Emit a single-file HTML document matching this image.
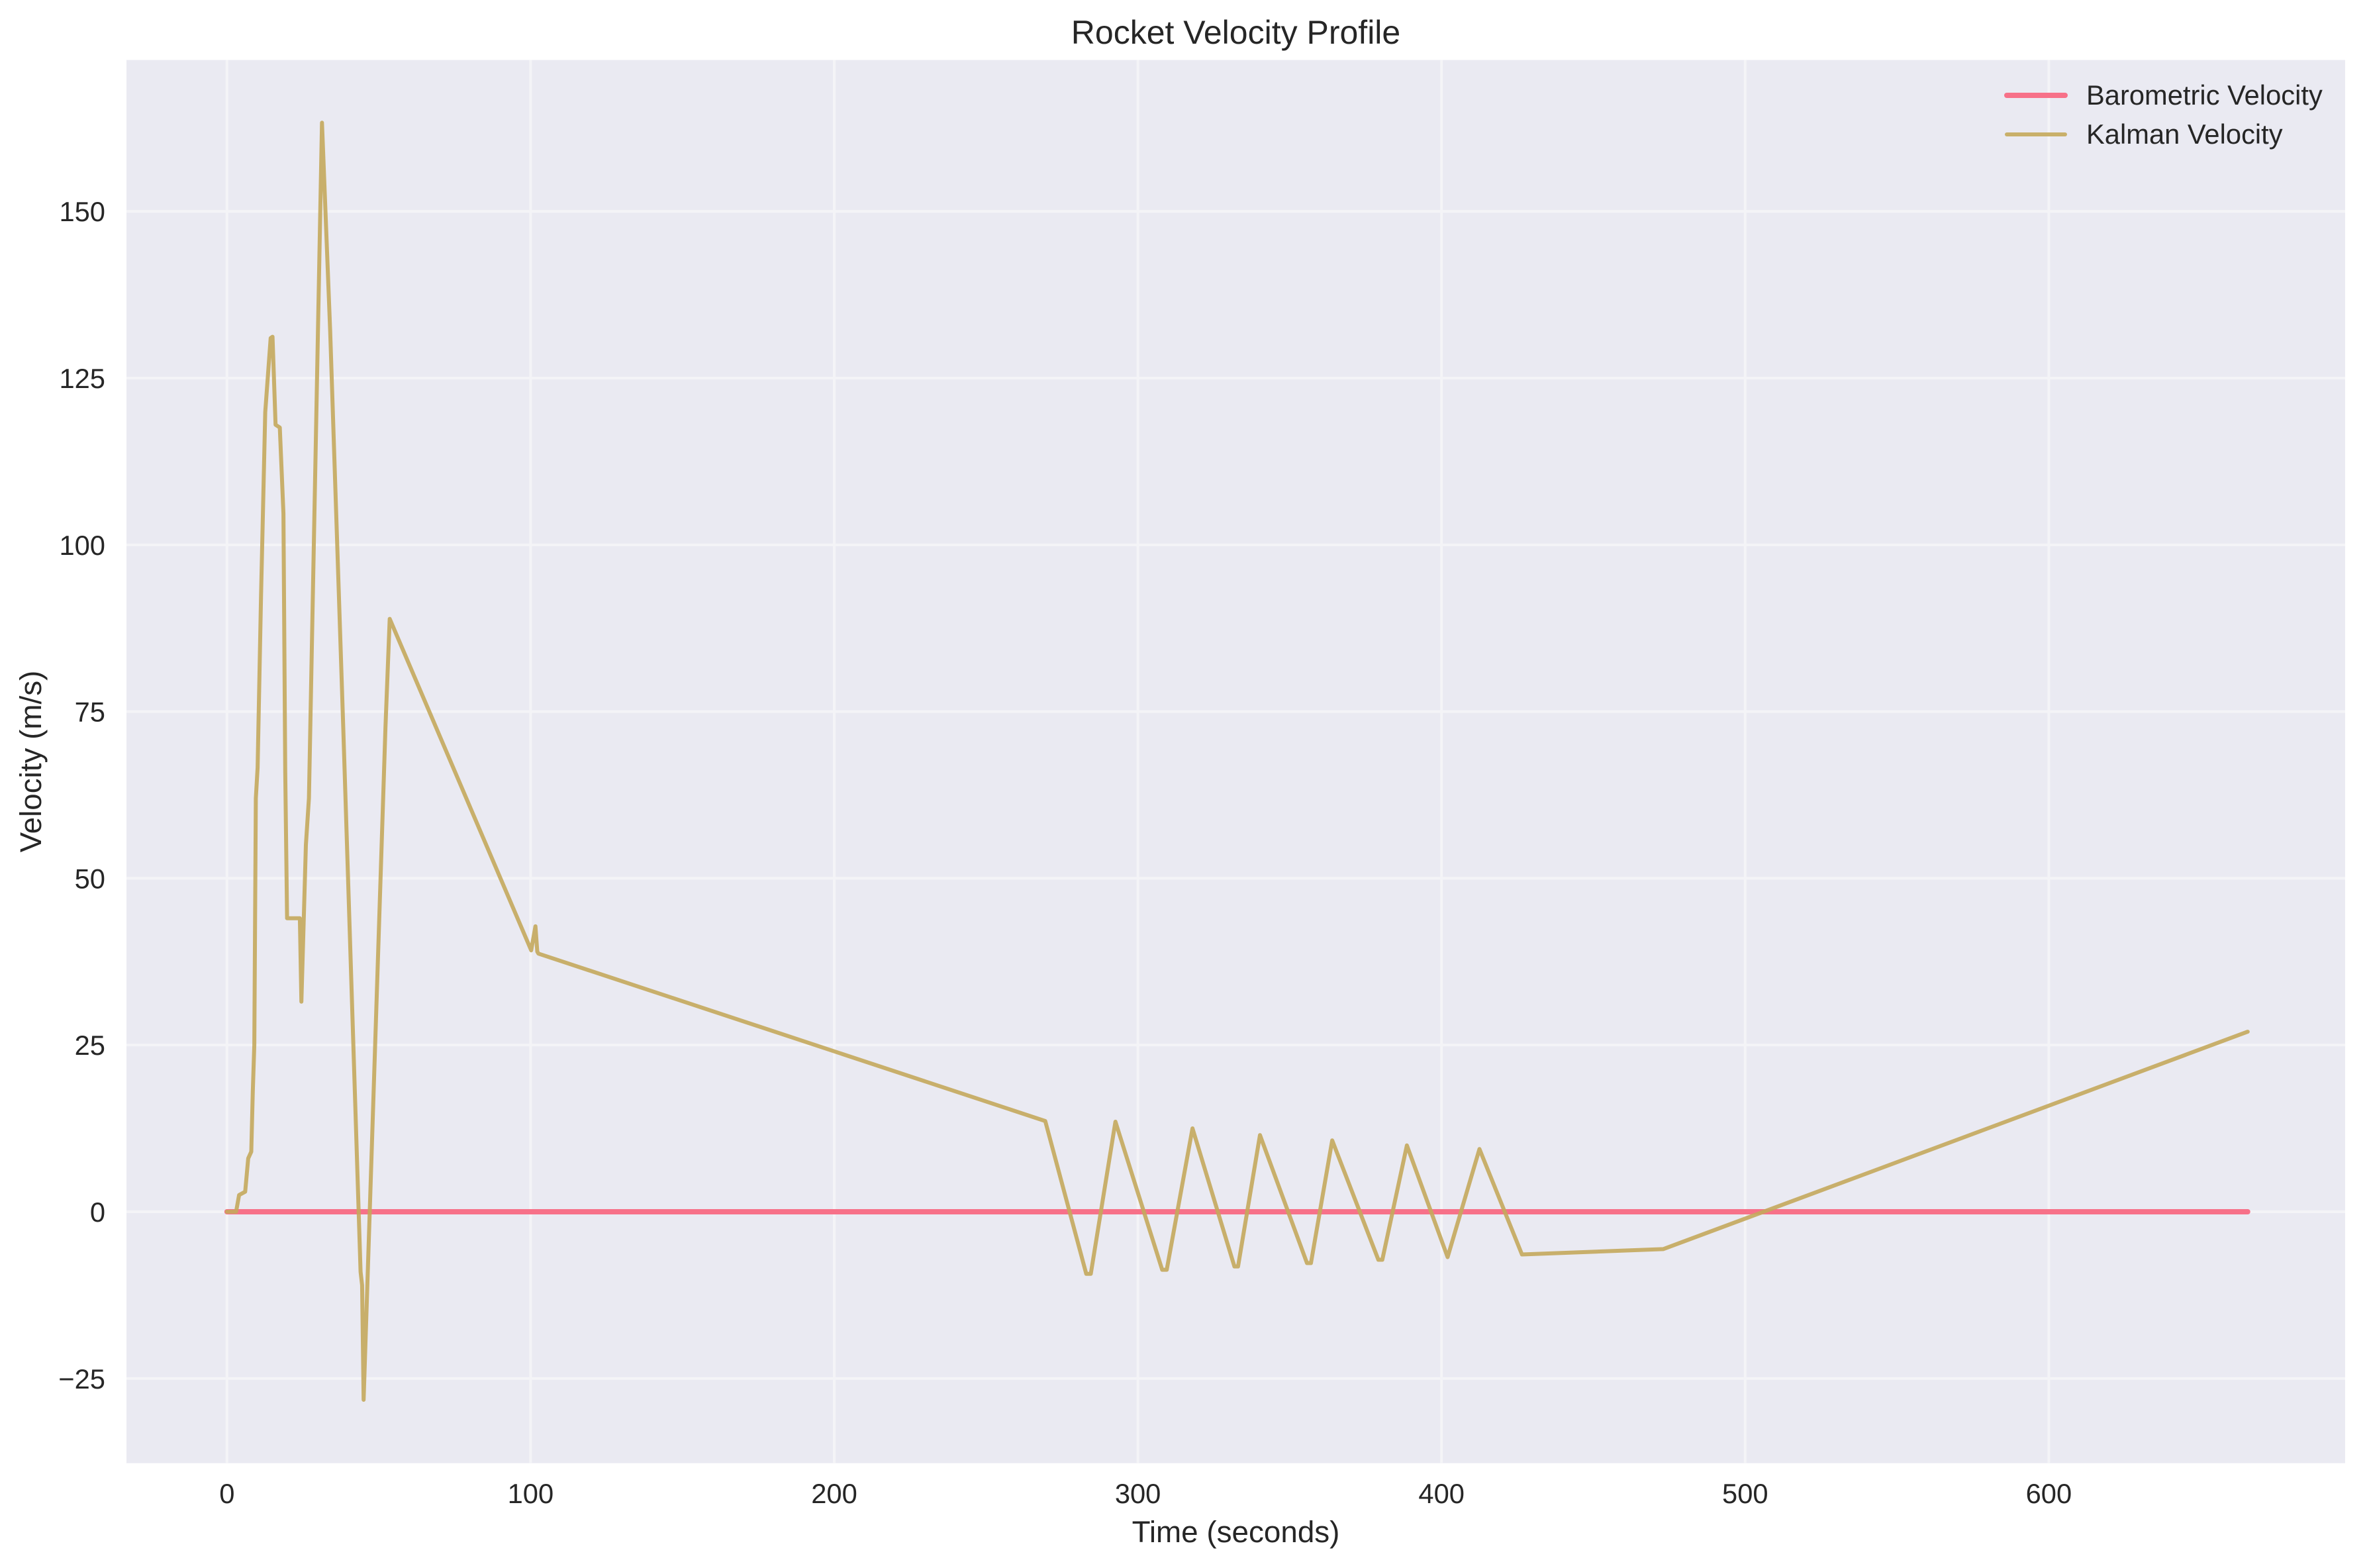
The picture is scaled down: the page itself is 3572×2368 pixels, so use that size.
<!DOCTYPE html>
<html><head><meta charset="utf-8"><title>Rocket Velocity Profile</title>
<style>html,body{margin:0;padding:0;background:#fff}svg{display:block}text{font-family:"Liberation Sans",Arial,sans-serif;fill:#262626}</style>
</head><body>
<svg id="chart" width="3572" height="2368" viewBox="0 0 3572 2368" xmlns="http://www.w3.org/2000/svg">
<rect x="191" y="90.6" width="3351" height="2119.1" fill="#eaeaf2"/>
<g id="grid"></g>
<g id="ticks"></g>
<g id="series"></g>
<text x="1866.5" y="66" font-size="50" text-anchor="middle">Rocket Velocity Profile</text>
<text x="1866.5" y="2329" font-size="45.8" text-anchor="middle">Time (seconds)</text>
<text x="0" y="0" font-size="45.8" text-anchor="middle" transform="translate(62,1150) rotate(-90)">Velocity (m/s)</text>
<g>
<line x1="3031" y1="144" x2="3119" y2="144" stroke="#f77189" stroke-width="8" stroke-linecap="round"/>
<text x="3151" y="158" font-size="41.7">Barometric Velocity</text>
<line x1="3031" y1="203" x2="3119" y2="203" stroke="#c9b06a" stroke-width="6" stroke-linecap="round"/>
<text x="3151" y="217" font-size="41.7">Kalman Velocity</text>
</g>
</svg>
<script>
const xTicks = [0, 100, 200, 300, 400, 500, 600];
const yTicks = [-25, 0, 25, 50, 75, 100, 125, 150];
const yTickLabels = ["\u221225", "0", "25", "50", "75", "100", "125", "150"];
const baroTime = [0, 665.5];
const baroVel = [0, 0];
const kalTime = [0,3,4,6,7,8,8.5,9,9.5,10.1,11.2,12.6,14.4,15,16,17.4,18.6,19.2,19.8,24,24.5,26,27,31.3,34,38.3,44,44.5,45,52.2,53.6,100.2,101.6,102.2,102.6,269.5,283,284.5,292.6,308,309.5,318,331.8,333,340.2,355.7,357,364,379.2,380.5,388.6,402,412.5,426.5,473,665.5];
const kalVel = [0,0,2.5,3,8,9,18,25,62,66.6,92.1,119.9,131,131.2,118,117.6,104.7,66,44,44,31.5,55,62,163.3,132,72.7,-9,-11,-28.2,72.7,88.9,39.2,42.8,39,38.7,13.6,-9.3,-9.3,13.5,-8.7,-8.7,12.5,-8.2,-8.2,11.5,-7.7,-7.7,10.7,-7.2,-7.2,9.95,-6.8,9.4,-6.4,-5.6,27];

const NS = "http://www.w3.org/2000/svg";
const X0 = -33.1, X1 = 697.6, PL = 191, PR = 3542;
const Y0 = -37.7, Y1 = 172.7, PB = 2209.7, PT = 90.6;
function sx(t){ return PL + (t - X0) / (X1 - X0) * (PR - PL); }
function sy(v){ return PB - (v - Y0) / (Y1 - Y0) * (PB - PT); }
function mk(tag, attrs, parent){ const e = document.createElementNS(NS, tag); for (const k in attrs) e.setAttribute(k, attrs[k]); parent.appendChild(e); return e; }

const grid = document.getElementById('grid');
const ticks = document.getElementById('ticks');
xTicks.forEach(function(t){
  const g = mk('line', {x1: sx(t), x2: sx(t), y1: PT, y2: PB, stroke: '#f4f4f7', 'stroke-width': 4}, grid);
  
  
  const l = mk('text', {x: sx(t), y: 2270, 'font-size': 41.7, 'text-anchor': 'middle'}, ticks);
  l.textContent = String(t);
  
  
});
yTicks.forEach(function(v, i){
  const g = mk('line', {x1: PL, x2: PR, y1: sy(v), y2: sy(v), stroke: '#f4f4f7', 'stroke-width': 4}, grid);
  
  
  const l = mk('text', {x: 159, y: sy(v) + 15, 'font-size': 41.7, 'text-anchor': 'end'}, ticks);
  l.textContent = yTickLabels[i];
  
  
});
function pts(ts, vs){ return ts.map(function(t, i){ return sx(t).toFixed(1) + ',' + sy(vs[i]).toFixed(1); }).join(' '); }
const series = document.getElementById('series');
const baro = mk('polyline', {points: pts(baroTime, baroVel), fill: 'none', stroke: '#f77189', 'stroke-width': 8, 'stroke-linecap': 'round', 'stroke-linejoin': 'round'}, series);


const kal = mk('polyline', {points: pts(kalTime, kalVel), fill: 'none', stroke: '#c4a95c', 'stroke-opacity': 0.9, 'stroke-width': 6, 'stroke-linecap': 'round', 'stroke-linejoin': 'round'}, series);


</script>
</body></html>
